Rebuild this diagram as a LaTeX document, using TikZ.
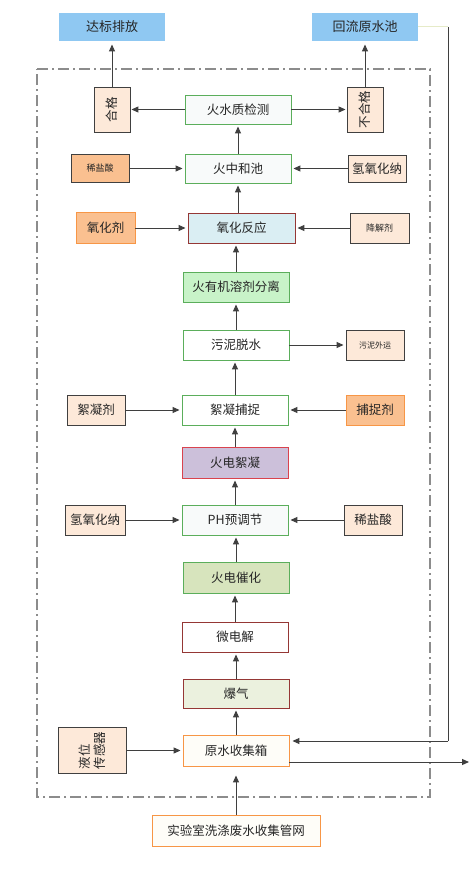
\documentclass[tikz,border=0pt]{standalone}
\usepackage{fontspec}
\newfontfamily\cjk{Noto Sans CJK SC}
\usetikzlibrary{arrows.meta}
\definecolor{bluebox}{HTML}{8FC8F2}
\definecolor{peach}{HTML}{FDE9D9}
\definecolor{orangef}{HTML}{FAC090}
\definecolor{orangeb}{HTML}{F79646}
\definecolor{greenb}{HTML}{5BAE5B}
\definecolor{darkred}{HTML}{953735}
\definecolor{redb}{HTML}{D9434E}
\definecolor{lavender}{HTML}{CCC0DA}
\definecolor{lightblue}{HTML}{DAEEF3}
\definecolor{lightgreen}{HTML}{C8F3C8}
\definecolor{oliveg}{HTML}{D7E4BD}
\definecolor{paleg}{HTML}{EBF1DE}
\definecolor{nearwhite}{HTML}{F8FAFA}
\definecolor{creamw}{HTML}{FEFDF8}
\definecolor{grayb}{HTML}{404040}
\definecolor{linec}{HTML}{3F3F3F}
\definecolor{framec}{HTML}{8C8C8C}
\definecolor{txtc}{HTML}{262626}
\definecolor{faintc}{HTML}{E6EBC8}
\begin{document}
\begin{tikzpicture}[x=1pt,y=-1pt,
  base/.style={line width=0.9pt, inner sep=0pt, text=txtc, font=\cjk\fontsize{12.5}{15}\selectfont},
  mainbox/.style={base, minimum width=106pt, minimum height=30pt},
  sidebox/.style={base, draw=grayb, fill=peach, minimum width=58pt, minimum height=30pt},
  orangebox/.style={base, draw=orangeb, fill=orangef, minimum width=59pt, minimum height=31pt},
  smalltxt/.style={font=\cjk\fontsize{9}{11}\selectfont},
  tinytxt/.style={font=\cjk\fontsize{8}{10}\selectfont},
  topbox/.style={base, fill=bluebox, minimum width=106pt, minimum height=28pt, font=\cjk\fontsize{13}{15}\selectfont},
  vertbox/.style={base, draw=grayb, fill=peach, rotate=90, minimum width=45pt, minimum height=36pt},
  arr/.style={draw=linec, line width=1pt, -{Triangle[length=7pt,width=6pt]}, shorten >=2pt},
  plainline/.style={draw=linec, line width=1pt},
  frameline/.style={draw=framec, line width=1.3pt, dash pattern=on 11pt off 4pt on 2pt off 4pt}
]
\useasboundingbox[fill=white] (0,0) rectangle (470,880);

% dash-dot frame
\draw[frameline] (37,69) -- (430,69) -- (430,797) -- (37,797) -- cycle;

% top boxes
\node[topbox] (dabiao) at (112,27) {达标排放};
\node[topbox] (huiliu) at (365,27) {回流原水池};

% vertical side boxes
\node[vertbox] (hege) at (112,109.5) {合格};
\node[vertbox] (buhege) at (365,109.5) {不合格};

% main column
\node[mainbox, draw=greenb, fill=nearwhite, minimum height=29pt] (jc) at (238,109.5) {火水质检测};
\node[mainbox, draw=greenb, fill=nearwhite, minimum height=29pt] (zh) at (238,168.5) {火中和池};
\node[mainbox, draw=darkred, fill=lightblue, minimum width=107pt] (yh) at (241.5,228) {氧化反应};
\node[mainbox, draw=greenb, fill=lightgreen] (fl) at (236,287) {火有机溶剂分离};
\node[mainbox, draw=greenb, fill=white] (wn) at (236,345) {污泥脱水};
\node[mainbox, draw=greenb, fill=white] (xn) at (235,410) {絮凝捕捉};
\node[mainbox, draw=redb, fill=lavender, minimum height=31pt] (dx) at (235,462.5) {火电絮凝};
\node[mainbox, draw=greenb, fill=nearwhite] (ph) at (235,520) {PH预调节};
\node[mainbox, draw=greenb, fill=oliveg, minimum height=31pt] (dc) at (236,577.5) {火电催化};
\node[mainbox, draw=darkred, fill=white] (wd) at (235,637) {微电解};
\node[mainbox, draw=darkred, fill=paleg, minimum height=29pt] (bq) at (236,693.5) {爆气};
\node[mainbox, draw=orangeb, fill=creamw, minimum height=31pt] (ys) at (236,750.5) {原水收集箱};
\node[mainbox, draw=orangeb, fill=creamw, minimum width=168pt, minimum height=31pt] (gw) at (236,830.5) {实验室洗涤废水收集管网};

% side boxes
\node[sidebox, fill=orangef, minimum height=28pt, smalltxt] (xy1) at (100,168.5) {稀盐酸};
\node[sidebox, minimum height=27pt] (qy1) at (377,168.5) {氢氧化纳};
\node[orangebox] (yhj) at (105.5,228) {氧化剂};
\node[sidebox, minimum width=59pt, smalltxt] (jj) at (379.5,228) {降解剂};
\node[sidebox, tinytxt] (wy) at (375,345) {污泥外运};
\node[sidebox] (xnj) at (96,410) {絮凝剂};
\node[orangebox, minimum width=58pt, minimum height=30pt] (bzj) at (375,410) {捕捉剂};
\node[sidebox, minimum width=60pt] (qy2) at (95,520) {氢氧化纳};
\node[sidebox] (xy2) at (373,520) {稀盐酸};
\node[base, draw=grayb, fill=peach, rotate=90, minimum width=46pt, minimum height=68pt, align=left] (yw) at (92,750.5) {液位\\传感器};

% main column arrows
\draw[arr] (ys) -- (bq);
\draw[arr] (bq.north) -- (bq.north |- wd.south);
\draw[arr] (wd.north) -- (wd.north |- dc.south);
\draw[arr] (dc.north) -- (dc.north |- ph.south);
\draw[arr] (ph) -- (dx);
\draw[arr] (dx) -- (xn);
\draw[arr] (xn.north) -- (xn.north |- wn.south);
\draw[arr] (wn) -- (fl);
\draw[arr] (fl.north) -- (fl.north |- yh.south);
\draw[arr] (zh.south |- yh.north) -- (zh.south);
\draw[arr] (zh) -- (jc);
\draw[arr, shorten >=9pt] (gw) -- (ys);

% side arrows
\draw[arr] (yw) -- (ys);
\draw[arr] (xnj) -- (xn);
\draw[arr] (bzj) -- (xn);
\draw[arr] (qy2) -- (ph);
\draw[arr] (xy2) -- (ph);
\draw[arr] (xy1) -- (zh);
\draw[arr] (qy1) -- (zh);
\draw[arr] (yhj) -- (yh);
\draw[arr] (jj) -- (yh);
\draw[arr] (wn) -- (wy);
\draw[arr, shorten >=1pt] (jc) -- (hege);
\draw[arr, shorten >=1pt] (jc) -- (buhege);
\draw[arr, shorten >=3pt] (hege) -- (dabiao);
\draw[arr, shorten >=3pt] (buhege) -- (huiliu);

% return line and outlet
\coordinate (rc1) at (448,27);
\coordinate (rc2) at (448,741);
\coordinate (outp) at (469,762);
\draw[draw=faintc, line width=1pt] (huiliu.east) -- (rc1);
\draw[plainline] (rc1) -- (rc2);
\draw[arr, shorten >=3pt] (rc2) -- (ys.east |- rc2);
\draw[arr, shorten >=0pt] (ys.east |- outp) -- (outp);
\end{tikzpicture}
\end{document}
